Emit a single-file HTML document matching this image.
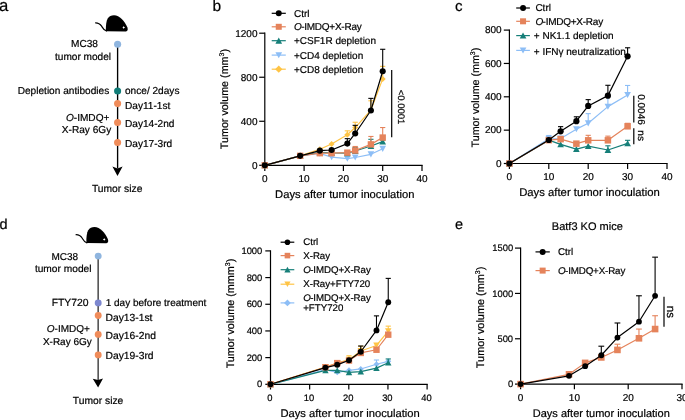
<!DOCTYPE html>
<html><head><meta charset="utf-8"><style>
html,body{margin:0;padding:0;background:#fff;}
body{width:685px;height:420px;overflow:hidden;}
svg{display:block;font-family:"Liberation Sans", sans-serif;text-rendering:geometricPrecision;will-change:transform;}
text{stroke:#000;stroke-width:0.2px;}
</style></head><body>
<svg width="685" height="420" viewBox="0 0 685 420">
<rect width="685" height="420" fill="#fff"/>
<text x="-1.00" y="10.50" font-size="16.8" text-anchor="start" fill="#000">a</text>
<g transform="translate(0.00,0.00) scale(1.0)"><path d="M105.9,31.2 C105.5,18.5 108.5,15.2 114,15.2 C119.6,15.2 124.6,21.2 127.3,27.2 C128.1,29.2 127.8,31.4 125.9,31.4 Z" fill="#000"/><path d="M106.4,30.9 C103.6,30.6 102.6,27.6 101.6,26.1 C100.4,24.3 98.6,22.8 95.6,22.8" fill="none" stroke="#000" stroke-width="1.2" stroke-linecap="round"/><path d="M123.7,26.1 L124.2,27 L125.1,27.5 L124.2,28 L123.7,28.9 L123.2,28 L122.3,27.5 L123.2,27 Z" fill="#fff"/></g>
<line x1="117.60" y1="44.00" x2="117.60" y2="168.50" stroke="#000" stroke-width="1.35"/>
<polygon points="112.4,166.6 117.5,168.6 122.6,166.4 117.5,176" fill="#000"/>
<circle cx="117.60" cy="44.20" r="3.55" fill="#8FB5DF"/>
<circle cx="117.60" cy="91.00" r="3.55" fill="#107D78"/>
<circle cx="117.60" cy="103.60" r="3.55" fill="#F08C5A"/>
<circle cx="117.60" cy="122.50" r="3.55" fill="#F08C5A"/>
<circle cx="117.60" cy="142.50" r="3.55" fill="#F08C5A"/>
<text x="98.00" y="47.40" font-size="10.1" text-anchor="end" fill="#000">MC38</text>
<text x="111.10" y="59.70" font-size="10.1" text-anchor="end" fill="#000">tumor model</text>
<text x="109.20" y="94.20" font-size="10.1" text-anchor="end" fill="#000">Depletion antibodies</text>
<text x="125.00" y="94.20" font-size="10.1" text-anchor="start" fill="#000">once/ 2days</text>
<text x="125.00" y="109.20" font-size="10.1" text-anchor="start" fill="#000">Day11-1st</text>
<text x="109.40" y="120.60" font-size="10.1" text-anchor="end" fill="#000"><tspan font-style="italic">O</tspan>-IMDQ+</text>
<text x="111.20" y="132.60" font-size="10.1" text-anchor="end" fill="#000">X-Ray 6Gy</text>
<text x="125.00" y="126.90" font-size="10.1" text-anchor="start" fill="#000">Day14-2nd</text>
<text x="125.00" y="146.60" font-size="10.1" text-anchor="start" fill="#000">Day17-3rd</text>
<text x="117.15" y="191.50" font-size="10.3" text-anchor="middle" fill="#000">Tumor size</text>
<text x="212.60" y="10.60" font-size="15.5" text-anchor="start" fill="#000">b</text>
<line x1="264.80" y1="32.60" x2="264.80" y2="165.90" stroke="#000" stroke-width="1.2"/>
<line x1="264.20" y1="165.30" x2="422.60" y2="165.30" stroke="#000" stroke-width="1.2"/>
<line x1="259.20" y1="165.30" x2="264.80" y2="165.30" stroke="#000" stroke-width="1.2"/>
<text x="257.50" y="168.60" font-size="10" text-anchor="end" fill="#000">0</text>
<line x1="259.20" y1="121.27" x2="264.80" y2="121.27" stroke="#000" stroke-width="1.2"/>
<text x="257.50" y="124.57" font-size="10" text-anchor="end" fill="#000">400</text>
<line x1="259.20" y1="77.24" x2="264.80" y2="77.24" stroke="#000" stroke-width="1.2"/>
<text x="257.50" y="80.54" font-size="10" text-anchor="end" fill="#000">800</text>
<line x1="259.20" y1="33.20" x2="264.80" y2="33.20" stroke="#000" stroke-width="1.2"/>
<text x="257.50" y="36.50" font-size="10" text-anchor="end" fill="#000">1200</text>
<line x1="264.80" y1="165.30" x2="264.80" y2="170.90" stroke="#000" stroke-width="1.2"/>
<text x="264.80" y="181.80" font-size="10" text-anchor="middle" fill="#000">0</text>
<line x1="304.10" y1="165.30" x2="304.10" y2="170.90" stroke="#000" stroke-width="1.2"/>
<text x="304.10" y="181.80" font-size="10" text-anchor="middle" fill="#000">10</text>
<line x1="343.40" y1="165.30" x2="343.40" y2="170.90" stroke="#000" stroke-width="1.2"/>
<text x="343.40" y="181.80" font-size="10" text-anchor="middle" fill="#000">20</text>
<line x1="382.70" y1="165.30" x2="382.70" y2="170.90" stroke="#000" stroke-width="1.2"/>
<text x="382.70" y="181.80" font-size="10" text-anchor="middle" fill="#000">30</text>
<line x1="422.00" y1="165.30" x2="422.00" y2="170.90" stroke="#000" stroke-width="1.2"/>
<text x="422.00" y="181.80" font-size="10" text-anchor="middle" fill="#000">40</text>
<text x="344.75" y="198.00" font-size="11.2" text-anchor="middle" fill="#000">Days after tumor inoculation</text>
<text transform="translate(228.10,99.10) rotate(-90)" font-size="10.75" text-anchor="middle" fill="#000">Tumor volume (mm<tspan font-size="6.9" dy="-3.8">3</tspan><tspan dy="3.8">)</tspan></text>
<line x1="347.33" y1="134.70" x2="347.33" y2="130.84" stroke="#FFC445" stroke-width="1.1"/>
<line x1="344.73" y1="130.84" x2="349.93" y2="130.84" stroke="#FFC445" stroke-width="1.1"/>
<line x1="355.19" y1="127.54" x2="355.19" y2="122.26" stroke="#FFC445" stroke-width="1.1"/>
<line x1="352.59" y1="122.26" x2="357.79" y2="122.26" stroke="#FFC445" stroke-width="1.1"/>
<line x1="370.91" y1="110.04" x2="370.91" y2="100.79" stroke="#FFC445" stroke-width="1.1"/>
<line x1="368.31" y1="100.79" x2="373.51" y2="100.79" stroke="#FFC445" stroke-width="1.1"/>
<line x1="382.70" y1="78.89" x2="382.70" y2="66.34" stroke="#FFC445" stroke-width="1.1"/>
<line x1="380.10" y1="66.34" x2="385.30" y2="66.34" stroke="#FFC445" stroke-width="1.1"/>
<polyline points="264.80,165.30 300.17,155.83 319.82,149.23 331.61,143.94 347.33,134.70 355.19,127.54 370.91,110.04 382.70,78.89" fill="none" stroke="#FFC445" stroke-width="1.2" stroke-linejoin="round"/>
<polygon points="264.80,162.31 267.79,165.30 264.80,168.29 261.81,165.30" fill="#FFC445"/>
<polygon points="300.17,152.84 303.16,155.83 300.17,158.82 297.18,155.83" fill="#FFC445"/>
<polygon points="319.82,146.24 322.81,149.23 319.82,152.22 316.83,149.23" fill="#FFC445"/>
<polygon points="331.61,140.95 334.60,143.94 331.61,146.93 328.62,143.94" fill="#FFC445"/>
<polygon points="347.33,131.71 350.32,134.70 347.33,137.69 344.34,134.70" fill="#FFC445"/>
<polygon points="355.19,124.55 358.18,127.54 355.19,130.53 352.20,127.54" fill="#FFC445"/>
<polygon points="370.91,107.05 373.90,110.04 370.91,113.03 367.92,110.04" fill="#FFC445"/>
<polygon points="382.70,75.90 385.69,78.89 382.70,81.88 379.71,78.89" fill="#FFC445"/>
<polyline points="264.80,165.30 300.17,155.83 319.82,153.52 331.61,157.15 347.33,158.59 355.19,157.48 370.91,154.29 382.70,148.79" fill="none" stroke="#8DBEF6" stroke-width="1.2" stroke-linejoin="round"/>
<polygon points="264.80,168.43 268.13,162.34 261.47,162.34" fill="#8DBEF6"/>
<polygon points="300.17,158.97 303.50,152.88 296.84,152.88" fill="#8DBEF6"/>
<polygon points="319.82,156.65 323.15,150.56 316.49,150.56" fill="#8DBEF6"/>
<polygon points="331.61,160.29 334.94,154.20 328.28,154.20" fill="#8DBEF6"/>
<polygon points="347.33,161.72 350.67,155.63 344.00,155.63" fill="#8DBEF6"/>
<polygon points="355.19,160.62 358.52,154.53 351.86,154.53" fill="#8DBEF6"/>
<polygon points="370.91,157.42 374.25,151.33 367.58,151.33" fill="#8DBEF6"/>
<polygon points="382.70,151.92 386.04,145.83 379.37,145.83" fill="#8DBEF6"/>
<line x1="355.19" y1="150.99" x2="355.19" y2="147.36" stroke="#167F79" stroke-width="1.1"/>
<line x1="352.59" y1="147.36" x2="357.79" y2="147.36" stroke="#167F79" stroke-width="1.1"/>
<line x1="370.91" y1="146.04" x2="370.91" y2="139.32" stroke="#167F79" stroke-width="1.1"/>
<line x1="368.31" y1="139.32" x2="373.51" y2="139.32" stroke="#167F79" stroke-width="1.1"/>
<line x1="382.70" y1="141.63" x2="382.70" y2="140.20" stroke="#167F79" stroke-width="1.1"/>
<line x1="380.10" y1="140.20" x2="385.30" y2="140.20" stroke="#167F79" stroke-width="1.1"/>
<polyline points="264.80,165.30 300.17,155.83 319.82,152.31 331.61,152.97 347.33,153.19 355.19,150.99 370.91,146.04 382.70,141.63" fill="none" stroke="#167F79" stroke-width="1.2" stroke-linejoin="round"/>
<polygon points="264.80,162.17 268.13,168.26 261.47,168.26" fill="#167F79"/>
<polygon points="300.17,152.70 303.50,158.79 296.84,158.79" fill="#167F79"/>
<polygon points="319.82,149.18 323.15,155.27 316.49,155.27" fill="#167F79"/>
<polygon points="331.61,149.84 334.94,155.93 328.28,155.93" fill="#167F79"/>
<polygon points="347.33,150.06 350.67,156.15 344.00,156.15" fill="#167F79"/>
<polygon points="355.19,147.86 358.52,153.95 351.86,153.95" fill="#167F79"/>
<polygon points="370.91,142.90 374.25,148.99 367.58,148.99" fill="#167F79"/>
<polygon points="382.70,138.50 386.04,144.59 379.37,144.59" fill="#167F79"/>
<line x1="355.19" y1="150.55" x2="355.19" y2="146.48" stroke="#E5835B" stroke-width="1.1"/>
<line x1="352.59" y1="146.48" x2="357.79" y2="146.48" stroke="#E5835B" stroke-width="1.1"/>
<line x1="370.91" y1="144.38" x2="370.91" y2="136.46" stroke="#E5835B" stroke-width="1.1"/>
<line x1="368.31" y1="136.46" x2="373.51" y2="136.46" stroke="#E5835B" stroke-width="1.1"/>
<line x1="382.70" y1="137.56" x2="382.70" y2="127.54" stroke="#E5835B" stroke-width="1.1"/>
<line x1="380.10" y1="127.54" x2="385.30" y2="127.54" stroke="#E5835B" stroke-width="1.1"/>
<polyline points="264.80,165.30 300.17,155.83 319.82,153.19 331.61,153.19 347.33,152.64 355.19,150.55 370.91,144.38 382.70,137.56" fill="none" stroke="#E5835B" stroke-width="1.2" stroke-linejoin="round"/>
<rect x="261.60" y="162.10" width="6.40" height="6.40" fill="#E5835B"/>
<rect x="296.97" y="152.63" width="6.40" height="6.40" fill="#E5835B"/>
<rect x="316.62" y="149.99" width="6.40" height="6.40" fill="#E5835B"/>
<rect x="328.41" y="149.99" width="6.40" height="6.40" fill="#E5835B"/>
<rect x="344.13" y="149.44" width="6.40" height="6.40" fill="#E5835B"/>
<rect x="351.99" y="147.35" width="6.40" height="6.40" fill="#E5835B"/>
<rect x="367.71" y="141.18" width="6.40" height="6.40" fill="#E5835B"/>
<rect x="379.50" y="134.36" width="6.40" height="6.40" fill="#E5835B"/>
<line x1="347.33" y1="143.61" x2="347.33" y2="138.66" stroke="#000" stroke-width="1.1"/>
<line x1="344.73" y1="138.66" x2="349.93" y2="138.66" stroke="#000" stroke-width="1.1"/>
<line x1="355.19" y1="133.49" x2="355.19" y2="125.34" stroke="#000" stroke-width="1.1"/>
<line x1="352.59" y1="125.34" x2="357.79" y2="125.34" stroke="#000" stroke-width="1.1"/>
<line x1="370.91" y1="110.48" x2="370.91" y2="98.37" stroke="#000" stroke-width="1.1"/>
<line x1="368.31" y1="98.37" x2="373.51" y2="98.37" stroke="#000" stroke-width="1.1"/>
<line x1="382.70" y1="71.29" x2="382.70" y2="49.28" stroke="#000" stroke-width="1.1"/>
<line x1="380.10" y1="49.28" x2="385.30" y2="49.28" stroke="#000" stroke-width="1.1"/>
<polyline points="264.80,165.30 300.17,155.83 319.82,150.66 331.61,150.00 347.33,143.61 355.19,133.49 370.91,110.48 382.70,71.29" fill="none" stroke="#000" stroke-width="1.2" stroke-linejoin="round"/>
<circle cx="264.80" cy="165.30" r="3.05" fill="#000"/>
<circle cx="300.17" cy="155.83" r="3.05" fill="#000"/>
<circle cx="319.82" cy="150.66" r="3.05" fill="#000"/>
<circle cx="331.61" cy="150.00" r="3.05" fill="#000"/>
<circle cx="347.33" cy="143.61" r="3.05" fill="#000"/>
<circle cx="355.19" cy="133.49" r="3.05" fill="#000"/>
<circle cx="370.91" cy="110.48" r="3.05" fill="#000"/>
<circle cx="382.70" cy="71.29" r="3.05" fill="#000"/>
<line x1="271.70" y1="13.30" x2="285.80" y2="13.30" stroke="#000" stroke-width="1.2"/>
<circle cx="278.75" cy="13.30" r="3.00" fill="#000"/>
<text x="294.00" y="16.85" font-size="10" text-anchor="start" fill="#000">Ctrl</text>
<line x1="271.70" y1="26.80" x2="285.80" y2="26.80" stroke="#E5835B" stroke-width="1.2"/>
<rect x="275.75" y="23.80" width="6.00" height="6.00" fill="#E5835B"/>
<text x="294.00" y="30.35" font-size="10" text-anchor="start" fill="#000"><tspan font-style="italic">O</tspan><tspan dx="-0.6" letter-spacing="-0.25">-IMDQ+X-Ray</tspan></text>
<line x1="271.70" y1="40.70" x2="285.80" y2="40.70" stroke="#167F79" stroke-width="1.2"/>
<polygon points="278.75,37.57 282.08,43.66 275.42,43.66" fill="#167F79"/>
<text x="294.00" y="44.25" font-size="10" text-anchor="start" fill="#000">+CSF1R depletion</text>
<line x1="271.70" y1="55.10" x2="285.80" y2="55.10" stroke="#8DBEF6" stroke-width="1.2"/>
<polygon points="278.75,58.23 282.08,52.14 275.42,52.14" fill="#8DBEF6"/>
<text x="294.00" y="58.65" font-size="10" text-anchor="start" fill="#000">+CD4 depletion</text>
<line x1="271.70" y1="69.20" x2="285.80" y2="69.20" stroke="#FFC445" stroke-width="1.2"/>
<polygon points="278.75,65.56 282.39,69.20 278.75,72.84 275.11,69.20" fill="#FFC445"/>
<text x="294.00" y="72.75" font-size="10" text-anchor="start" fill="#000">+CD8 depletion</text>
<line x1="391.70" y1="70.00" x2="391.70" y2="137.30" stroke="#000" stroke-width="1.2"/>
<text transform="translate(397.90,107.00) rotate(90)" font-size="9.5" text-anchor="middle" fill="#000">&lt;0.0001</text>
<text x="455.00" y="10.60" font-size="15" text-anchor="start" fill="#000">c</text>
<line x1="509.40" y1="29.50" x2="509.40" y2="164.10" stroke="#000" stroke-width="1.2"/>
<line x1="508.80" y1="163.50" x2="667.60" y2="163.50" stroke="#000" stroke-width="1.2"/>
<line x1="503.80" y1="163.50" x2="509.40" y2="163.50" stroke="#000" stroke-width="1.2"/>
<text x="501.60" y="166.80" font-size="10" text-anchor="end" fill="#000">0</text>
<line x1="503.80" y1="130.15" x2="509.40" y2="130.15" stroke="#000" stroke-width="1.2"/>
<text x="501.60" y="133.45" font-size="10" text-anchor="end" fill="#000">200</text>
<line x1="503.80" y1="96.80" x2="509.40" y2="96.80" stroke="#000" stroke-width="1.2"/>
<text x="501.60" y="100.10" font-size="10" text-anchor="end" fill="#000">400</text>
<line x1="503.80" y1="63.45" x2="509.40" y2="63.45" stroke="#000" stroke-width="1.2"/>
<text x="501.60" y="66.75" font-size="10" text-anchor="end" fill="#000">600</text>
<line x1="503.80" y1="30.10" x2="509.40" y2="30.10" stroke="#000" stroke-width="1.2"/>
<text x="501.60" y="33.40" font-size="10" text-anchor="end" fill="#000">800</text>
<line x1="509.40" y1="163.50" x2="509.40" y2="169.10" stroke="#000" stroke-width="1.2"/>
<text x="509.40" y="180.40" font-size="10" text-anchor="middle" fill="#000">0</text>
<line x1="548.80" y1="163.50" x2="548.80" y2="169.10" stroke="#000" stroke-width="1.2"/>
<text x="548.80" y="180.40" font-size="10" text-anchor="middle" fill="#000">10</text>
<line x1="588.20" y1="163.50" x2="588.20" y2="169.10" stroke="#000" stroke-width="1.2"/>
<text x="588.20" y="180.40" font-size="10" text-anchor="middle" fill="#000">20</text>
<line x1="627.60" y1="163.50" x2="627.60" y2="169.10" stroke="#000" stroke-width="1.2"/>
<text x="627.60" y="180.40" font-size="10" text-anchor="middle" fill="#000">30</text>
<line x1="667.00" y1="163.50" x2="667.00" y2="169.10" stroke="#000" stroke-width="1.2"/>
<text x="667.00" y="180.40" font-size="10" text-anchor="middle" fill="#000">40</text>
<text x="589.50" y="196.10" font-size="11.3" text-anchor="middle" fill="#000">Days after tumor inoculation</text>
<text transform="translate(478.50,97.60) rotate(-90)" font-size="10.7" text-anchor="middle" fill="#000">Tumor volume (mm<tspan font-size="6.9" dy="-3.8">3</tspan><tspan dy="3.8">)</tspan></text>
<line x1="548.80" y1="138.82" x2="548.80" y2="135.49" stroke="#8DBEF6" stroke-width="1.1"/>
<line x1="546.20" y1="135.49" x2="551.40" y2="135.49" stroke="#8DBEF6" stroke-width="1.1"/>
<line x1="588.20" y1="123.31" x2="588.20" y2="113.64" stroke="#8DBEF6" stroke-width="1.1"/>
<line x1="585.60" y1="113.64" x2="590.80" y2="113.64" stroke="#8DBEF6" stroke-width="1.1"/>
<line x1="607.90" y1="106.64" x2="607.90" y2="95.97" stroke="#8DBEF6" stroke-width="1.1"/>
<line x1="605.30" y1="95.97" x2="610.50" y2="95.97" stroke="#8DBEF6" stroke-width="1.1"/>
<line x1="627.60" y1="94.97" x2="627.60" y2="85.46" stroke="#8DBEF6" stroke-width="1.1"/>
<line x1="625.00" y1="85.46" x2="630.20" y2="85.46" stroke="#8DBEF6" stroke-width="1.1"/>
<polyline points="509.40,163.50 548.80,138.82 560.62,138.49 576.38,129.15 588.20,123.31 607.90,106.64 627.60,94.97" fill="none" stroke="#8DBEF6" stroke-width="1.2" stroke-linejoin="round"/>
<polygon points="509.40,166.63 512.74,160.54 506.06,160.54" fill="#8DBEF6"/>
<polygon points="548.80,141.95 552.13,135.86 545.46,135.86" fill="#8DBEF6"/>
<polygon points="560.62,141.62 563.96,135.53 557.28,135.53" fill="#8DBEF6"/>
<polygon points="576.38,132.28 579.72,126.19 573.04,126.19" fill="#8DBEF6"/>
<polygon points="588.20,126.45 591.53,120.36 584.86,120.36" fill="#8DBEF6"/>
<polygon points="607.90,109.77 611.24,103.68 604.56,103.68" fill="#8DBEF6"/>
<polygon points="627.60,98.10 630.94,92.01 624.26,92.01" fill="#8DBEF6"/>
<line x1="607.90" y1="149.99" x2="607.90" y2="145.82" stroke="#167F79" stroke-width="1.1"/>
<line x1="605.30" y1="145.82" x2="610.50" y2="145.82" stroke="#167F79" stroke-width="1.1"/>
<line x1="627.60" y1="143.32" x2="627.60" y2="140.32" stroke="#167F79" stroke-width="1.1"/>
<line x1="625.00" y1="140.32" x2="630.20" y2="140.32" stroke="#167F79" stroke-width="1.1"/>
<polyline points="509.40,163.50 548.80,140.16 560.62,144.32 576.38,149.16 588.20,146.16 607.90,149.99 627.60,143.32" fill="none" stroke="#167F79" stroke-width="1.2" stroke-linejoin="round"/>
<polygon points="509.40,160.37 512.74,166.46 506.06,166.46" fill="#167F79"/>
<polygon points="548.80,137.02 552.13,143.11 545.46,143.11" fill="#167F79"/>
<polygon points="560.62,141.19 563.96,147.28 557.28,147.28" fill="#167F79"/>
<polygon points="576.38,146.03 579.72,152.12 573.04,152.12" fill="#167F79"/>
<polygon points="588.20,143.03 591.53,149.12 584.86,149.12" fill="#167F79"/>
<polygon points="607.90,146.86 611.24,152.95 604.56,152.95" fill="#167F79"/>
<polygon points="627.60,140.19 630.94,146.28 624.26,146.28" fill="#167F79"/>
<line x1="588.20" y1="140.32" x2="588.20" y2="135.32" stroke="#E5835B" stroke-width="1.1"/>
<line x1="585.60" y1="135.32" x2="590.80" y2="135.32" stroke="#E5835B" stroke-width="1.1"/>
<line x1="607.90" y1="140.32" x2="607.90" y2="136.15" stroke="#E5835B" stroke-width="1.1"/>
<line x1="605.30" y1="136.15" x2="610.50" y2="136.15" stroke="#E5835B" stroke-width="1.1"/>
<line x1="627.60" y1="126.31" x2="627.60" y2="123.31" stroke="#E5835B" stroke-width="1.1"/>
<line x1="625.00" y1="123.31" x2="630.20" y2="123.31" stroke="#E5835B" stroke-width="1.1"/>
<polyline points="509.40,163.50 548.80,140.16 560.62,139.15 576.38,143.66 588.20,140.32 607.90,140.32 627.60,126.31" fill="none" stroke="#E5835B" stroke-width="1.2" stroke-linejoin="round"/>
<rect x="506.15" y="160.25" width="6.50" height="6.50" fill="#E5835B"/>
<rect x="545.55" y="136.91" width="6.50" height="6.50" fill="#E5835B"/>
<rect x="557.37" y="135.90" width="6.50" height="6.50" fill="#E5835B"/>
<rect x="573.13" y="140.41" width="6.50" height="6.50" fill="#E5835B"/>
<rect x="584.95" y="137.07" width="6.50" height="6.50" fill="#E5835B"/>
<rect x="604.65" y="137.07" width="6.50" height="6.50" fill="#E5835B"/>
<rect x="624.35" y="123.06" width="6.50" height="6.50" fill="#E5835B"/>
<line x1="560.62" y1="131.32" x2="560.62" y2="126.65" stroke="#000" stroke-width="1.1"/>
<line x1="558.02" y1="126.65" x2="563.22" y2="126.65" stroke="#000" stroke-width="1.1"/>
<line x1="576.38" y1="121.15" x2="576.38" y2="116.81" stroke="#000" stroke-width="1.1"/>
<line x1="573.78" y1="116.81" x2="578.98" y2="116.81" stroke="#000" stroke-width="1.1"/>
<line x1="588.20" y1="105.97" x2="588.20" y2="99.63" stroke="#000" stroke-width="1.1"/>
<line x1="585.60" y1="99.63" x2="590.80" y2="99.63" stroke="#000" stroke-width="1.1"/>
<line x1="607.90" y1="95.63" x2="607.90" y2="85.29" stroke="#000" stroke-width="1.1"/>
<line x1="605.30" y1="85.29" x2="610.50" y2="85.29" stroke="#000" stroke-width="1.1"/>
<line x1="627.60" y1="56.28" x2="627.60" y2="47.78" stroke="#000" stroke-width="1.1"/>
<line x1="625.00" y1="47.78" x2="630.20" y2="47.78" stroke="#000" stroke-width="1.1"/>
<polyline points="509.40,163.50 548.80,139.99 560.62,131.32 576.38,121.15 588.20,105.97 607.90,95.63 627.60,56.28" fill="none" stroke="#000" stroke-width="1.2" stroke-linejoin="round"/>
<circle cx="509.40" cy="163.50" r="3.10" fill="#000"/>
<circle cx="548.80" cy="139.99" r="3.10" fill="#000"/>
<circle cx="560.62" cy="131.32" r="3.10" fill="#000"/>
<circle cx="576.38" cy="121.15" r="3.10" fill="#000"/>
<circle cx="588.20" cy="105.97" r="3.10" fill="#000"/>
<circle cx="607.90" cy="95.63" r="3.10" fill="#000"/>
<circle cx="627.60" cy="56.28" r="3.10" fill="#000"/>
<line x1="516.20" y1="8.00" x2="529.90" y2="8.00" stroke="#000" stroke-width="1.2"/>
<circle cx="523.05" cy="8.00" r="3.00" fill="#000"/>
<text x="535.40" y="11.15" font-size="10" text-anchor="start" fill="#000">Ctrl</text>
<line x1="516.20" y1="21.30" x2="529.90" y2="21.30" stroke="#E5835B" stroke-width="1.2"/>
<rect x="520.05" y="18.30" width="6.00" height="6.00" fill="#E5835B"/>
<text x="535.40" y="24.85" font-size="10" text-anchor="start" fill="#000"><tspan font-style="italic">O</tspan><tspan dx="-0.6" letter-spacing="-0.25">-IMDQ+X-Ray</tspan></text>
<line x1="516.20" y1="35.60" x2="529.90" y2="35.60" stroke="#167F79" stroke-width="1.2"/>
<polygon points="523.05,32.47 526.38,38.56 519.71,38.56" fill="#167F79"/>
<text x="533.80" y="39.15" font-size="10" text-anchor="start" fill="#000">+ NK1.1 depletion</text>
<line x1="516.20" y1="50.40" x2="529.90" y2="50.40" stroke="#8DBEF6" stroke-width="1.2"/>
<polygon points="523.05,53.53 526.38,47.44 519.71,47.44" fill="#8DBEF6"/>
<text x="533.80" y="54.75" font-size="10" text-anchor="start" fill="#000">+ IFN&#947; neutralization</text>
<line x1="633.80" y1="95.80" x2="633.80" y2="122.50" stroke="#000" stroke-width="1.2"/>
<line x1="633.80" y1="128.30" x2="633.80" y2="144.20" stroke="#000" stroke-width="1.2"/>
<text transform="translate(637.80,109.50) rotate(90)" font-size="10" text-anchor="middle" fill="#000">0.0046</text>
<text transform="translate(637.80,135.60) rotate(90)" font-size="10" text-anchor="middle" fill="#000">ns</text>
<text x="-0.60" y="229.00" font-size="14.5" text-anchor="start" fill="#000">d</text>
<g transform="translate(-19.50,211.90) scale(1.0)"><path d="M105.9,31.2 C105.5,18.5 108.5,15.2 114,15.2 C119.6,15.2 124.6,21.2 127.3,27.2 C128.1,29.2 127.8,31.4 125.9,31.4 Z" fill="#000"/><path d="M106.4,30.9 C103.6,30.6 102.6,27.6 101.6,26.1 C100.4,24.3 98.6,22.8 95.6,22.8" fill="none" stroke="#000" stroke-width="1.2" stroke-linecap="round"/><path d="M123.7,26.1 L124.2,27 L125.1,27.5 L124.2,28 L123.7,28.9 L123.2,28 L122.3,27.5 L123.2,27 Z" fill="#fff"/></g>
<line x1="98.15" y1="256.00" x2="98.15" y2="380.00" stroke="#3a3a3a" stroke-width="1.4"/>
<polygon points="92.8,378.7 98.1,380.1 103,378.4 98.1,387.5" fill="#000"/>
<circle cx="98.20" cy="256.10" r="3.45" fill="#8FB5DF"/>
<circle cx="98.20" cy="302.90" r="3.45" fill="#7D87CF"/>
<circle cx="98.20" cy="315.50" r="3.45" fill="#F08C5A"/>
<circle cx="98.20" cy="334.40" r="3.45" fill="#F08C5A"/>
<circle cx="98.20" cy="354.90" r="3.45" fill="#F08C5A"/>
<text x="78.10" y="259.70" font-size="10.0" text-anchor="end" fill="#000">MC38</text>
<text x="91.50" y="271.70" font-size="10.2" text-anchor="end" fill="#000">tumor model</text>
<text x="88.60" y="306.30" font-size="10.4" text-anchor="end" fill="#000">FTY720</text>
<text x="105.70" y="306.30" font-size="10.0" text-anchor="start" fill="#000">1 day before treatment</text>
<text x="105.50" y="320.80" font-size="10.3" text-anchor="start" fill="#000">Day13-1st</text>
<text x="89.90" y="332.30" font-size="10.0" text-anchor="end" fill="#000"><tspan font-style="italic">O</tspan>-IMDQ+</text>
<text x="91.80" y="344.60" font-size="10.0" text-anchor="end" fill="#000">X-Ray 6Gy</text>
<text x="105.50" y="339.00" font-size="10.3" text-anchor="start" fill="#000">Day16-2nd</text>
<text x="105.50" y="358.60" font-size="10.3" text-anchor="start" fill="#000">Day19-3rd</text>
<text x="98.10" y="403.70" font-size="10.3" text-anchor="middle" fill="#000">Tumor size</text>
<line x1="270.50" y1="250.30" x2="270.50" y2="384.90" stroke="#000" stroke-width="1.2"/>
<line x1="269.90" y1="384.30" x2="427.70" y2="384.30" stroke="#000" stroke-width="1.2"/>
<line x1="265.30" y1="384.30" x2="270.50" y2="384.30" stroke="#000" stroke-width="1.2"/>
<text x="262.30" y="387.30" font-size="9.4" text-anchor="end" fill="#000">0</text>
<line x1="265.30" y1="357.62" x2="270.50" y2="357.62" stroke="#000" stroke-width="1.2"/>
<text x="262.30" y="360.62" font-size="9.4" text-anchor="end" fill="#000">200</text>
<line x1="265.30" y1="330.94" x2="270.50" y2="330.94" stroke="#000" stroke-width="1.2"/>
<text x="262.30" y="333.94" font-size="9.4" text-anchor="end" fill="#000">400</text>
<line x1="265.30" y1="304.26" x2="270.50" y2="304.26" stroke="#000" stroke-width="1.2"/>
<text x="262.30" y="307.26" font-size="9.4" text-anchor="end" fill="#000">600</text>
<line x1="265.30" y1="277.58" x2="270.50" y2="277.58" stroke="#000" stroke-width="1.2"/>
<text x="262.30" y="280.58" font-size="9.4" text-anchor="end" fill="#000">800</text>
<line x1="265.30" y1="250.90" x2="270.50" y2="250.90" stroke="#000" stroke-width="1.2"/>
<text x="262.30" y="253.90" font-size="9.4" text-anchor="end" fill="#000">1000</text>
<line x1="270.50" y1="384.30" x2="270.50" y2="389.50" stroke="#000" stroke-width="1.2"/>
<text x="269.90" y="400.80" font-size="9.4" text-anchor="middle" fill="#000">0</text>
<line x1="309.65" y1="384.30" x2="309.65" y2="389.50" stroke="#000" stroke-width="1.2"/>
<text x="309.05" y="400.80" font-size="9.4" text-anchor="middle" fill="#000">10</text>
<line x1="348.80" y1="384.30" x2="348.80" y2="389.50" stroke="#000" stroke-width="1.2"/>
<text x="348.20" y="400.80" font-size="9.4" text-anchor="middle" fill="#000">20</text>
<line x1="387.95" y1="384.30" x2="387.95" y2="389.50" stroke="#000" stroke-width="1.2"/>
<text x="387.35" y="400.80" font-size="9.4" text-anchor="middle" fill="#000">30</text>
<line x1="427.10" y1="384.30" x2="427.10" y2="389.50" stroke="#000" stroke-width="1.2"/>
<text x="426.50" y="400.80" font-size="9.4" text-anchor="middle" fill="#000">40</text>
<text x="350.10" y="416.80" font-size="11.2" text-anchor="middle" fill="#000">Days after tumor inoculation</text>
<text transform="translate(234.20,313.50) rotate(-90)" font-size="10.8" text-anchor="middle" fill="#000">Tumor volume (mmm<tspan font-size="7" dy="-3.9">3</tspan><tspan dy="3.9">)</tspan></text>
<line x1="376.48" y1="364.29" x2="376.48" y2="360.02" stroke="#8DBEF6" stroke-width="1.1"/>
<line x1="373.88" y1="360.02" x2="379.08" y2="360.02" stroke="#8DBEF6" stroke-width="1.1"/>
<polyline points="270.50,384.30 325.45,369.63 337.23,372.29 349.00,370.29 360.77,368.96 376.48,364.29 388.25,361.36" fill="none" stroke="#8DBEF6" stroke-width="1.2" stroke-linejoin="round"/>
<polygon points="270.50,381.31 273.49,384.30 270.50,387.29 267.51,384.30" fill="#8DBEF6"/>
<polygon points="325.45,366.64 328.44,369.63 325.45,372.62 322.46,369.63" fill="#8DBEF6"/>
<polygon points="337.23,369.30 340.22,372.29 337.23,375.28 334.24,372.29" fill="#8DBEF6"/>
<polygon points="349.00,367.30 351.99,370.29 349.00,373.28 346.01,370.29" fill="#8DBEF6"/>
<polygon points="360.77,365.97 363.76,368.96 360.77,371.95 357.78,368.96" fill="#8DBEF6"/>
<polygon points="376.48,361.30 379.47,364.29 376.48,367.28 373.49,364.29" fill="#8DBEF6"/>
<polygon points="388.25,358.37 391.24,361.36 388.25,364.35 385.26,361.36" fill="#8DBEF6"/>
<line x1="349.00" y1="359.62" x2="349.00" y2="355.75" stroke="#FFC445" stroke-width="1.1"/>
<line x1="346.40" y1="355.75" x2="351.60" y2="355.75" stroke="#FFC445" stroke-width="1.1"/>
<line x1="360.77" y1="350.95" x2="360.77" y2="346.28" stroke="#FFC445" stroke-width="1.1"/>
<line x1="358.17" y1="346.28" x2="363.38" y2="346.28" stroke="#FFC445" stroke-width="1.1"/>
<line x1="388.25" y1="331.21" x2="388.25" y2="326.14" stroke="#FFC445" stroke-width="1.1"/>
<line x1="385.65" y1="326.14" x2="390.85" y2="326.14" stroke="#FFC445" stroke-width="1.1"/>
<polyline points="270.50,384.30 325.45,366.96 337.23,362.96 349.00,359.62 360.77,350.95 376.48,345.48 388.25,331.21" fill="none" stroke="#FFC445" stroke-width="1.2" stroke-linejoin="round"/>
<polygon points="270.50,387.32 273.72,381.44 267.28,381.44" fill="#FFC445"/>
<polygon points="325.45,369.98 328.67,364.10 322.23,364.10" fill="#FFC445"/>
<polygon points="337.23,365.98 340.45,360.10 334.00,360.10" fill="#FFC445"/>
<polygon points="349.00,362.65 352.22,356.77 345.78,356.77" fill="#FFC445"/>
<polygon points="360.77,353.97 364.00,348.09 357.55,348.09" fill="#FFC445"/>
<polygon points="376.48,348.50 379.70,342.62 373.25,342.62" fill="#FFC445"/>
<polygon points="388.25,334.23 391.47,328.35 385.03,328.35" fill="#FFC445"/>
<line x1="388.25" y1="362.69" x2="388.25" y2="358.95" stroke="#167F79" stroke-width="1.1"/>
<line x1="385.65" y1="358.95" x2="390.85" y2="358.95" stroke="#167F79" stroke-width="1.1"/>
<polyline points="270.50,384.30 325.45,370.43 337.23,370.29 349.00,372.29 360.77,371.63 376.48,368.16 388.25,362.69" fill="none" stroke="#167F79" stroke-width="1.2" stroke-linejoin="round"/>
<polygon points="270.50,381.28 273.72,387.16 267.28,387.16" fill="#167F79"/>
<polygon points="325.45,367.40 328.67,373.28 322.23,373.28" fill="#167F79"/>
<polygon points="337.23,367.27 340.45,373.15 334.00,373.15" fill="#167F79"/>
<polygon points="349.00,369.27 352.22,375.15 345.78,375.15" fill="#167F79"/>
<polygon points="360.77,368.60 364.00,374.48 357.55,374.48" fill="#167F79"/>
<polygon points="376.48,365.13 379.70,371.01 373.25,371.01" fill="#167F79"/>
<polygon points="388.25,359.67 391.47,365.55 385.03,365.55" fill="#167F79"/>
<polyline points="270.50,384.30 325.45,367.22 337.23,363.09 349.00,360.55 360.77,352.95 376.48,349.75 388.25,334.68" fill="none" stroke="#E5835B" stroke-width="1.2" stroke-linejoin="round"/>
<rect x="267.30" y="381.10" width="6.40" height="6.40" fill="#E5835B"/>
<rect x="322.25" y="364.02" width="6.40" height="6.40" fill="#E5835B"/>
<rect x="334.03" y="359.89" width="6.40" height="6.40" fill="#E5835B"/>
<rect x="345.80" y="357.35" width="6.40" height="6.40" fill="#E5835B"/>
<rect x="357.57" y="349.75" width="6.40" height="6.40" fill="#E5835B"/>
<rect x="373.28" y="346.55" width="6.40" height="6.40" fill="#E5835B"/>
<rect x="385.05" y="331.48" width="6.40" height="6.40" fill="#E5835B"/>
<line x1="360.77" y1="351.75" x2="360.77" y2="346.01" stroke="#000" stroke-width="1.1"/>
<line x1="358.17" y1="346.01" x2="363.38" y2="346.01" stroke="#000" stroke-width="1.1"/>
<line x1="376.48" y1="330.41" x2="376.48" y2="315.87" stroke="#000" stroke-width="1.1"/>
<line x1="373.88" y1="315.87" x2="379.08" y2="315.87" stroke="#000" stroke-width="1.1"/>
<line x1="388.25" y1="302.26" x2="388.25" y2="278.38" stroke="#000" stroke-width="1.1"/>
<line x1="385.65" y1="278.38" x2="390.85" y2="278.38" stroke="#000" stroke-width="1.1"/>
<polyline points="270.50,384.30 325.45,367.62 337.23,364.82 349.00,360.29 360.77,351.75 376.48,330.41 388.25,302.26" fill="none" stroke="#000" stroke-width="1.2" stroke-linejoin="round"/>
<circle cx="270.50" cy="384.30" r="2.95" fill="#000"/>
<circle cx="325.45" cy="367.62" r="2.95" fill="#000"/>
<circle cx="337.23" cy="364.82" r="2.95" fill="#000"/>
<circle cx="349.00" cy="360.29" r="2.95" fill="#000"/>
<circle cx="360.77" cy="351.75" r="2.95" fill="#000"/>
<circle cx="376.48" cy="330.41" r="2.95" fill="#000"/>
<circle cx="388.25" cy="302.26" r="2.95" fill="#000"/>
<line x1="280.60" y1="242.20" x2="294.30" y2="242.20" stroke="#000" stroke-width="1.2"/>
<circle cx="287.45" cy="242.20" r="2.80" fill="#000"/>
<text x="303.20" y="245.14" font-size="9.7" text-anchor="start" fill="#000">Ctrl</text>
<line x1="280.60" y1="255.60" x2="294.30" y2="255.60" stroke="#E5835B" stroke-width="1.2"/>
<rect x="284.65" y="252.80" width="5.60" height="5.60" fill="#E5835B"/>
<text x="303.20" y="258.54" font-size="9.7" text-anchor="start" fill="#000">X-Ray</text>
<line x1="280.60" y1="269.70" x2="294.30" y2="269.70" stroke="#167F79" stroke-width="1.2"/>
<polygon points="287.45,266.78 290.56,272.45 284.35,272.45" fill="#167F79"/>
<text x="303.20" y="272.64" font-size="9.7" text-anchor="start" fill="#000"><tspan font-style="italic">O</tspan><tspan dx="-0.6" letter-spacing="-0.05">-IMDQ+X-Ray</tspan></text>
<line x1="280.60" y1="284.20" x2="294.30" y2="284.20" stroke="#FFC445" stroke-width="1.2"/>
<polygon points="287.45,287.12 290.56,281.45 284.35,281.45" fill="#FFC445"/>
<text x="303.20" y="287.14" font-size="9.7" text-anchor="start" fill="#000">X-Ray+FTY720</text>
<line x1="280.60" y1="302.90" x2="294.30" y2="302.90" stroke="#8DBEF6" stroke-width="1.2"/>
<polygon points="287.40,299.52 290.78,302.90 287.40,306.28 284.02,302.90" fill="#8DBEF6"/>
<text x="303.20" y="300.70" font-size="9.7" text-anchor="start" fill="#000"><tspan font-style="italic">O</tspan><tspan dx="-0.6" letter-spacing="-0.05">-IMDQ+X-Ray</tspan></text>
<text x="303.20" y="311.30" font-size="9.7" text-anchor="start" fill="#000">+FTY720</text>
<text x="455.00" y="229.00" font-size="14.5" text-anchor="start" fill="#000">e</text>
<text x="587.30" y="229.70" font-size="11" text-anchor="middle" fill="#000">Batf3 KO mice</text>
<line x1="520.60" y1="247.50" x2="520.60" y2="384.70" stroke="#000" stroke-width="1.2"/>
<line x1="520.00" y1="384.10" x2="682.60" y2="384.10" stroke="#000" stroke-width="1.2"/>
<line x1="515.00" y1="384.10" x2="520.60" y2="384.10" stroke="#000" stroke-width="1.2"/>
<text x="513.10" y="387.30" font-size="9.4" text-anchor="end" fill="#000">0</text>
<line x1="515.00" y1="338.77" x2="520.60" y2="338.77" stroke="#000" stroke-width="1.2"/>
<text x="513.10" y="341.97" font-size="9.4" text-anchor="end" fill="#000">500</text>
<line x1="515.00" y1="293.43" x2="520.60" y2="293.43" stroke="#000" stroke-width="1.2"/>
<text x="513.10" y="296.63" font-size="9.4" text-anchor="end" fill="#000">1000</text>
<line x1="515.00" y1="248.10" x2="520.60" y2="248.10" stroke="#000" stroke-width="1.2"/>
<text x="513.10" y="251.30" font-size="9.4" text-anchor="end" fill="#000">1500</text>
<line x1="520.60" y1="384.10" x2="520.60" y2="389.30" stroke="#000" stroke-width="1.2"/>
<text x="520.60" y="401.00" font-size="10" text-anchor="middle" fill="#000">0</text>
<line x1="574.40" y1="384.10" x2="574.40" y2="389.30" stroke="#000" stroke-width="1.2"/>
<text x="574.40" y="401.00" font-size="10" text-anchor="middle" fill="#000">10</text>
<line x1="628.20" y1="384.10" x2="628.20" y2="389.30" stroke="#000" stroke-width="1.2"/>
<text x="628.20" y="401.00" font-size="10" text-anchor="middle" fill="#000">20</text>
<line x1="682.00" y1="384.10" x2="682.00" y2="389.30" stroke="#000" stroke-width="1.2"/>
<text x="682.00" y="401.00" font-size="10" text-anchor="middle" fill="#000">30</text>
<text x="601.30" y="417.00" font-size="11" text-anchor="middle" fill="#000">Days after tumor inoculation</text>
<text transform="translate(484.00,317.40) rotate(-90)" font-size="10.9" text-anchor="middle" fill="#000">Tumor volume (mm<tspan font-size="7" dy="-3.8">3</tspan><tspan dy="3.8">)</tspan></text>
<line x1="585.16" y1="362.88" x2="585.16" y2="361.61" stroke="#E5835B" stroke-width="1.1"/>
<line x1="582.26" y1="361.61" x2="588.06" y2="361.61" stroke="#E5835B" stroke-width="1.1"/>
<line x1="617.44" y1="349.92" x2="617.44" y2="344.21" stroke="#E5835B" stroke-width="1.1"/>
<line x1="614.54" y1="344.21" x2="620.34" y2="344.21" stroke="#E5835B" stroke-width="1.1"/>
<line x1="638.96" y1="338.31" x2="638.96" y2="329.06" stroke="#E5835B" stroke-width="1.1"/>
<line x1="636.06" y1="329.06" x2="641.86" y2="329.06" stroke="#E5835B" stroke-width="1.1"/>
<line x1="655.10" y1="329.06" x2="655.10" y2="315.73" stroke="#E5835B" stroke-width="1.1"/>
<line x1="652.20" y1="315.73" x2="658.00" y2="315.73" stroke="#E5835B" stroke-width="1.1"/>
<polyline points="520.60,384.10 569.02,374.31 585.16,362.88 601.30,357.44 617.44,349.92 638.96,338.31 655.10,329.06" fill="none" stroke="#E5835B" stroke-width="1.2" stroke-linejoin="round"/>
<rect x="517.30" y="380.80" width="6.60" height="6.60" fill="#E5835B"/>
<rect x="565.72" y="371.01" width="6.60" height="6.60" fill="#E5835B"/>
<rect x="581.86" y="359.58" width="6.60" height="6.60" fill="#E5835B"/>
<rect x="598.00" y="354.14" width="6.60" height="6.60" fill="#E5835B"/>
<rect x="614.14" y="346.62" width="6.60" height="6.60" fill="#E5835B"/>
<rect x="635.66" y="335.01" width="6.60" height="6.60" fill="#E5835B"/>
<rect x="651.80" y="325.76" width="6.60" height="6.60" fill="#E5835B"/>
<line x1="601.30" y1="355.27" x2="601.30" y2="346.20" stroke="#000" stroke-width="1.1"/>
<line x1="598.40" y1="346.20" x2="604.20" y2="346.20" stroke="#000" stroke-width="1.1"/>
<line x1="617.44" y1="337.59" x2="617.44" y2="322.99" stroke="#000" stroke-width="1.1"/>
<line x1="614.54" y1="322.99" x2="620.34" y2="322.99" stroke="#000" stroke-width="1.1"/>
<line x1="638.96" y1="321.72" x2="638.96" y2="295.79" stroke="#000" stroke-width="1.1"/>
<line x1="636.06" y1="295.79" x2="641.86" y2="295.79" stroke="#000" stroke-width="1.1"/>
<line x1="655.10" y1="295.79" x2="655.10" y2="257.16" stroke="#000" stroke-width="1.1"/>
<line x1="652.20" y1="257.16" x2="658.00" y2="257.16" stroke="#000" stroke-width="1.1"/>
<polyline points="520.60,384.10 569.02,375.85 585.16,366.15 601.30,355.27 617.44,337.59 638.96,321.72 655.10,295.79" fill="none" stroke="#000" stroke-width="1.2" stroke-linejoin="round"/>
<circle cx="520.60" cy="384.10" r="2.90" fill="#000"/>
<circle cx="569.02" cy="375.85" r="2.90" fill="#000"/>
<circle cx="585.16" cy="366.15" r="2.90" fill="#000"/>
<circle cx="601.30" cy="355.27" r="2.90" fill="#000"/>
<circle cx="617.44" cy="337.59" r="2.90" fill="#000"/>
<circle cx="638.96" cy="321.72" r="2.90" fill="#000"/>
<circle cx="655.10" cy="295.79" r="2.90" fill="#000"/>
<line x1="535.50" y1="251.90" x2="549.80" y2="251.90" stroke="#000" stroke-width="1.2"/>
<circle cx="542.65" cy="251.90" r="3.00" fill="#000"/>
<text x="558.00" y="255.38" font-size="9.8" text-anchor="start" fill="#000">Ctrl</text>
<line x1="535.50" y1="270.60" x2="549.80" y2="270.60" stroke="#E5835B" stroke-width="1.2"/>
<rect x="539.65" y="267.60" width="6.00" height="6.00" fill="#E5835B"/>
<text x="558.00" y="274.08" font-size="9.8" text-anchor="start" fill="#000"><tspan font-style="italic">O</tspan><tspan dx="-0.6" letter-spacing="-0.15">-IMDQ+X-Ray</tspan></text>
<line x1="664.00" y1="296.70" x2="664.00" y2="326.70" stroke="#000" stroke-width="1.2"/>
<text transform="translate(667.30,311.90) rotate(90)" font-size="11.5" text-anchor="middle" fill="#000">ns</text>
</svg>
</body></html>
